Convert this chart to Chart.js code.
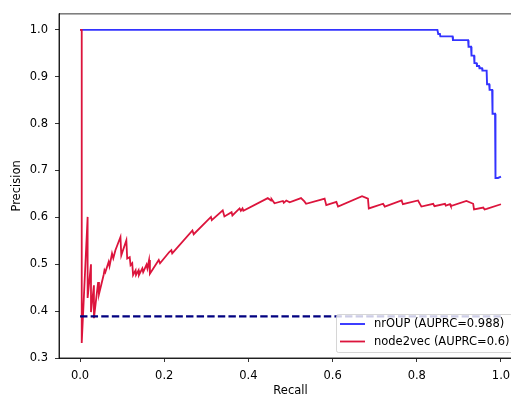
<!DOCTYPE html>
<html>
<head>
<meta charset="utf-8">
<script src="https://cdn.jsdelivr.net/npm/chart.js@4.4.0/dist/chart.umd.min.js"></script>
<style>
  html, body { margin: 0; padding: 0; overflow: hidden; background: #fff; }
  #wrap { width: 540px; height: 399px; }
</style>
</head>
<body>
<div id="wrap"><canvas id="prChart" width="540" height="399"></canvas></div>
<script>
// nrOUP precision-recall curve
var nrOupRecall = [0, 0.849, 0.851, 0.855, 0.856, 0.885, 0.886, 0.922, 0.923, 0.929, 0.930, 0.936,
  0.937, 0.942, 0.943, 0.948, 0.949, 0.955, 0.956, 0.966, 0.967, 0.972, 0.973, 0.979, 0.980,
  0.986, 0.987, 0.993, 1.0];
var nrOupPrecision = [1, 1, 0.991, 0.991, 0.986, 0.986, 0.978, 0.978, 0.964, 0.964, 0.945, 0.945,
  0.929, 0.929, 0.923, 0.923, 0.918, 0.918, 0.913, 0.913, 0.884, 0.884, 0.872, 0.872, 0.821,
  0.821, 0.684, 0.684, 0.687];

// node2vec precision-recall curve
var n2vRecall = [0, 0.004, 0.004, 0.018, 0.018, 0.026, 0.026, 0.033, 0.033, 0.043, 0.045, 0.056,
  0.058, 0.060, 0.068, 0.070, 0.076, 0.079, 0.084, 0.096, 0.098, 0.110, 0.112, 0.118, 0.120,
  0.124, 0.126, 0.132, 0.133, 0.139, 0.140, 0.148, 0.150, 0.158, 0.160, 0.164, 0.166, 0.187,
  0.190, 0.212, 0.217, 0.219, 0.267, 0.270, 0.311, 0.313, 0.339, 0.343, 0.360, 0.362, 0.379,
  0.382, 0.386, 0.388, 0.446, 0.454, 0.455, 0.462, 0.482, 0.484, 0.490, 0.498, 0.525, 0.533,
  0.537, 0.573, 0.581, 0.585, 0.609, 0.613, 0.670, 0.684, 0.686, 0.720, 0.724, 0.764, 0.767,
  0.803, 0.811, 0.839, 0.842, 0.867, 0.869, 0.879, 0.881, 0.918, 0.934, 0.936, 0.958, 0.961,
  0.966, 1.0];
var n2vPrecision = [1, 1, 0.332, 0.601, 0.428, 0.500, 0.398, 0.455, 0.385, 0.462, 0.436, 0.477,
  0.487, 0.483, 0.505, 0.496, 0.523, 0.513, 0.530, 0.558, 0.519, 0.551, 0.512, 0.515, 0.498,
  0.502, 0.477, 0.487, 0.477, 0.487, 0.477, 0.491, 0.483, 0.499, 0.491, 0.509, 0.480, 0.509,
  0.502, 0.526, 0.530, 0.523, 0.572, 0.564, 0.601, 0.594, 0.615, 0.602, 0.611, 0.604, 0.619,
  0.614, 0.619, 0.614, 0.641, 0.636, 0.639, 0.630, 0.635, 0.631, 0.636, 0.632, 0.641, 0.634,
  0.629, 0.638, 0.640, 0.626, 0.633, 0.623, 0.645, 0.640, 0.619, 0.629, 0.623, 0.636, 0.628,
  0.636, 0.623, 0.629, 0.624, 0.629, 0.625, 0.628, 0.624, 0.635, 0.629, 0.617, 0.621, 0.617,
  0.618, 0.628];

// no-skill baseline
var baselineRecall = [0, 1];
var baselineValue = 0.389;

var xTicks = [0, 0.2, 0.4, 0.6, 0.8, 1.0];
var yTicks = [0.3, 0.4, 0.5, 0.6, 0.7, 0.8, 0.9, 1.0];

function pairs(xs, ys) {
  return xs.map(function (x, i) { return { x: x, y: ys[i] }; });
}

var font = { family: 'DejaVu Sans', size: 11.5 };

// matplotlib-like legend box in the lower right of the axes
var boxLegend = {
  id: 'boxLegend',
  afterDatasetsDraw: function (chart) {
    var ctx = chart.ctx;
    var items = chart.data.datasets.filter(function (d) { return d.inLegend; });
    var x0 = 336, y0 = 314, w = 179, h = 38;
    ctx.save();
    ctx.fillStyle = 'rgba(255,255,255,0.8)';
    ctx.strokeStyle = 'rgba(204,204,204,0.8)';
    ctx.lineWidth = 1;
    ctx.beginPath();
    ctx.roundRect(x0 + 0.5, y0 + 0.5, w, h, 2);
    ctx.fill();
    ctx.stroke();
    ctx.font = font.size + 'px ' + font.family;
    ctx.textBaseline = 'middle';
    items.forEach(function (d, i) {
      var y = 324 + i * 17.5;
      ctx.strokeStyle = d.borderColor;
      ctx.lineWidth = d.borderWidth;
      ctx.beginPath();
      ctx.moveTo(340, y);
      ctx.lineTo(365, y);
      ctx.stroke();
      ctx.fillStyle = '#000';
      ctx.fillText(d.label, 374, y + 0.5);
    });
    ctx.restore();
  }
};

// top and right spines
var frame = {
  id: 'frame',
  afterDraw: function (chart) {
    var a = chart.chartArea, ctx = chart.ctx;
    ctx.save();
    ctx.strokeStyle = '#000';
    ctx.lineWidth = 0.8;
    ctx.strokeRect(a.left, a.top, a.right - a.left, a.bottom - a.top);
    ctx.restore();
  }
};

var ctx = document.getElementById('prChart');
var prChart = new Chart(ctx, {
  type: 'line',
  data: {
    datasets: [{
        label: 'baseline',
        data: pairs(baselineRecall, baselineRecall.map(function () { return baselineValue; })),
        borderColor: '#000080',
        borderWidth: 2.2,
        borderDash: [7.4, 3.2],
        order: 0
      }, {
        label: 'nrOUP (AUPRC=0.988)',
        data: pairs(nrOupRecall, nrOupPrecision),
        borderColor: 'rgba(0,0,255,0.8)',
        borderWidth: 1.9,
        inLegend: true,
        order: 2
      }, {
        label: 'node2vec (AUPRC=0.6)',
        data: pairs(n2vRecall, n2vPrecision),
        borderColor: '#dc143c',
        borderWidth: 1.8,
        inLegend: true,
        order: 1
      }
    ]
  },
  options: {
    responsive: false,
    animation: false,
    devicePixelRatio: 1,
    layout: { padding: { top: 13, right: 18, left: 0, bottom: 0 } },
    elements: { point: { radius: 0 }, line: { tension: 0, borderJoinStyle: 'miter' } },
    plugins: { legend: { display: false }, tooltip: { enabled: false } },
    scales: {
      x: {
        type: 'linear',
        min: -0.05,
        max: 1.05,
        afterBuildTicks: function (s) { s.ticks = xTicks.map(function (v) { return { value: v }; }); },
        afterFit: function (s) { s.height = 41; },
        ticks: { font: font, color: '#000', padding: 7, maxRotation: 0,
          callback: function (v) { return v.toFixed(1); } },
        grid: { drawOnChartArea: false, drawTicks: true, tickLength: 4, tickColor: '#000', tickWidth: 0.8 },
        border: { display: true, color: '#000', width: 0.8 },
        title: { display: true, text: 'Recall', font: font, color: '#000', padding: { top: 0, bottom: 1 } }
      },
      y: {
        type: 'linear',
        min: 0.3,
        max: 1.034,
        afterBuildTicks: function (s) { s.ticks = yTicks.map(function (v) { return { value: v }; }); },
        afterFit: function (s) { s.width = 59; },
        ticks: { font: font, color: '#000', padding: 7,
          callback: function (v) { return v.toFixed(1); } },
        grid: { drawOnChartArea: false, drawTicks: true, tickLength: 4, tickColor: '#000', tickWidth: 0.8 },
        border: { display: true, color: '#000', width: 0.8 },
        title: { display: true, text: 'Precision', font: font, color: '#000', padding: { top: 10, bottom: 0 } }
      }
    }
  },
  plugins: [boxLegend, frame]
});
</script>
</body>
</html>
